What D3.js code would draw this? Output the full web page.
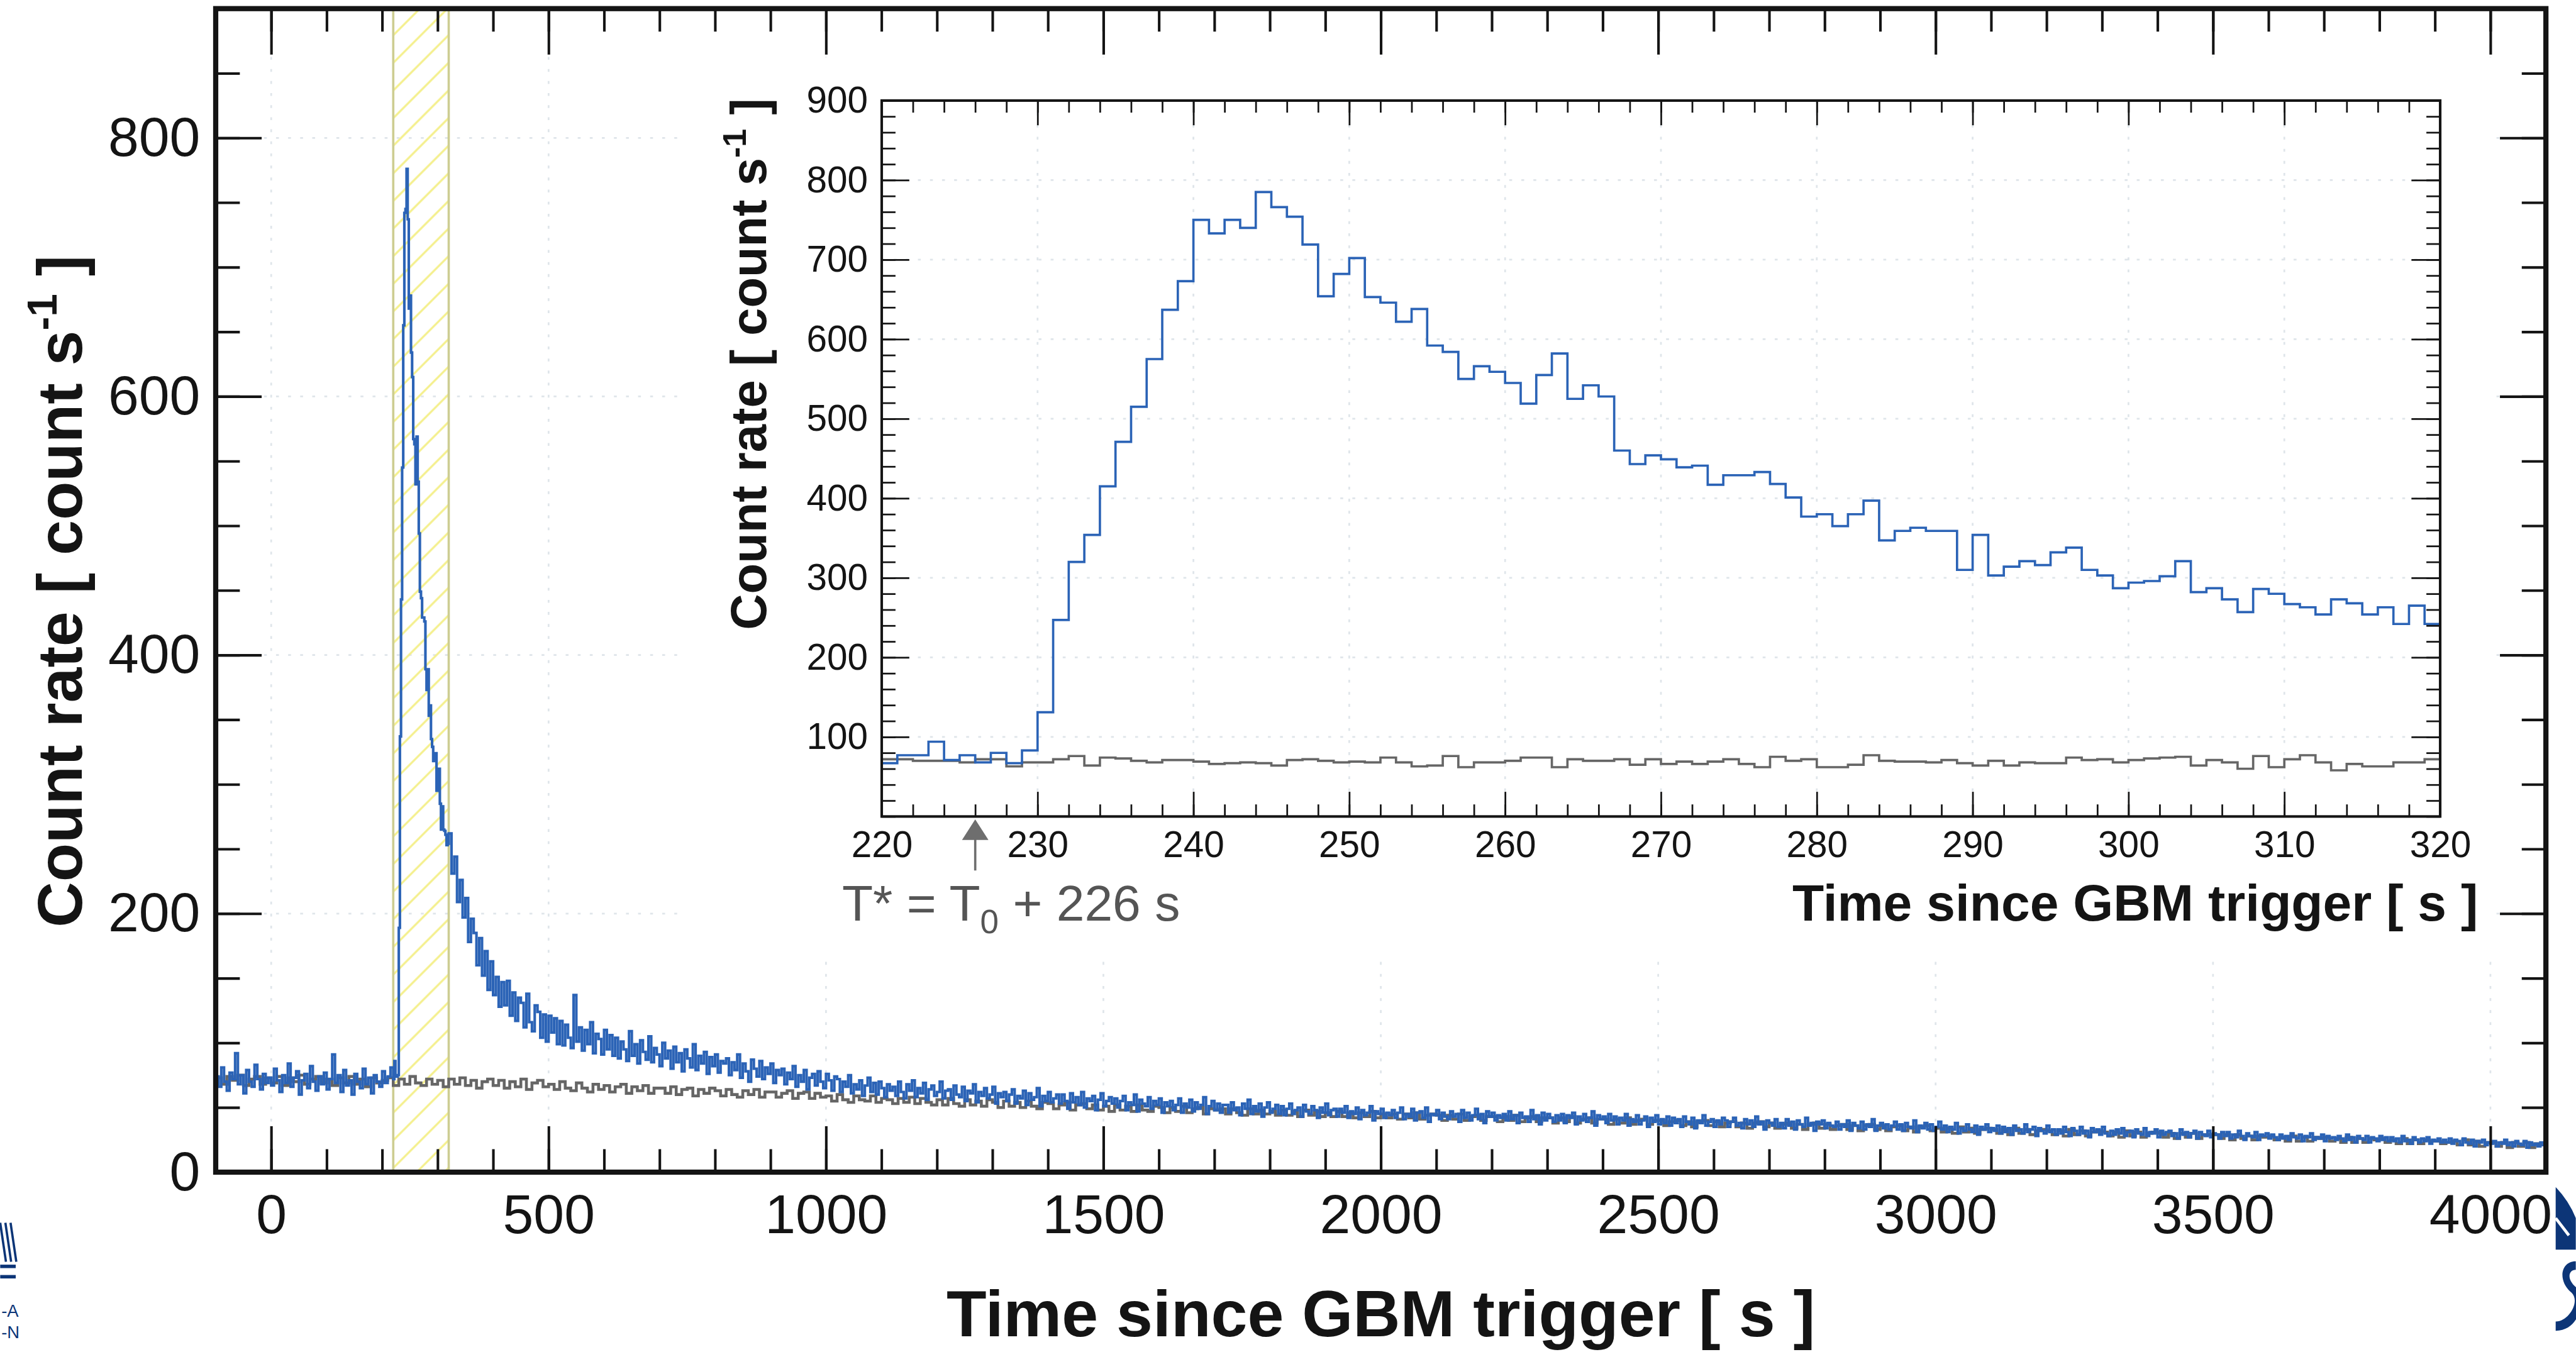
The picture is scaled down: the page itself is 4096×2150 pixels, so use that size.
<!DOCTYPE html>
<html>
<head>
<meta charset="utf-8">
<script src="https://cdn.jsdelivr.net/npm/d3@7"></script>
<style>
  html, body { margin: 0; padding: 0; background: #fff; }
  svg { display: block; }
</style>
</head>
<body>
<svg id="chart"></svg>
<script>
// Light curve data (count rate in count/s)

// Main panel binning
var preStart = -100;
var burstStart = 220;
var postStart = 320;
var mainEnd = 4100;
var blueBinWidth = 5;
var burstBinWidth = 2;
var grayBinWidth = 10;

// Blue: source region, before the burst window (5 s bins from -100 s)
var bluePre = [74, 66, 81, 70, 63, 77, 72, 92, 68, 75, 61, 79, 70, 66, 83, 72, 64, 76, 69, 73,
  67, 80, 71, 62, 75, 69, 84, 66, 73, 78, 60, 71, 76, 65, 82, 70, 63, 74, 68, 77,
  64, 72, 91, 69, 75, 62, 79, 67, 71, 60, 76, 70, 65, 80, 68, 73, 61, 75, 70, 66,
  78, 69, 74, 81];

// Blue: burst window 220-320 s (2 s bins)
var blueBurst = [72, 86, 74, 74, 75, 189, 337, 443, 545, 655,
  742, 745, 776, 737, 668, 678, 634, 615, 567, 563,
  532, 569, 534, 494, 449, 444, 429, 429, 426, 389,
  373, 389, 353, 361, 335, 329, 318, 324, 324, 295,
  295, 312, 285, 265, 283, 265, 264, 261, 253, 254];

// Blue: after the burst window (5 s bins from 320 s)
var bluePost = [262, 231, 244, 209, 226, 197, 212, 178, 196, 185, 160, 181, 152, 171, 141, 163, 137, 151, 128, 147,
  129, 148, 121, 139, 117, 135, 131, 112, 138, 116, 109, 129, 124, 104, 122, 101, 121, 108, 119, 99,
  117, 98, 114, 104, 96, 137, 101, 112, 94, 110, 99, 116, 92, 107, 103, 91, 110, 95, 106, 90,
  104, 88, 101, 95, 86, 109, 90, 99, 84, 102, 93, 87, 105, 85, 96, 91, 82, 100, 88, 94,
  80, 97, 85, 92, 78, 95, 88, 81, 99, 79, 90, 84, 93, 76, 89, 82, 91, 77, 86, 84,
  88, 75, 85, 79, 91, 73, 84, 78, 70, 87, 80, 74, 86, 72, 81, 76, 84, 69, 79, 75,
  80, 68, 77, 72, 82, 66, 75, 70, 79, 64, 73, 76, 67, 78, 70, 65, 76, 71, 63, 74,
  72, 62, 70, 66, 75, 61, 68, 64, 71, 59, 67, 73, 62, 69, 60, 70, 65, 58, 68, 63,
  66, 59, 70, 62, 57, 68, 63, 71, 58, 65, 61, 69, 56, 64, 67, 59, 62, 70, 57, 63,
  64, 56, 67, 60, 58, 66, 55, 63, 61, 68, 54, 62, 59, 65, 57, 60, 66, 53, 61, 58,
  62, 55, 60, 64, 53, 59, 57, 63, 52, 61, 56, 58, 65, 51, 59, 55, 62, 54, 57, 60,
  53, 60, 55, 49, 61, 54, 58, 52, 62, 50, 57, 55, 59, 48, 56, 61, 51, 55, 58, 53,
  57, 50, 55, 59, 48, 54, 52, 60, 47, 56, 53, 51, 58, 49, 55, 52, 57, 46, 54, 51,
  55, 48, 52, 57, 46, 53, 50, 56, 47, 54, 49, 52, 58, 45, 51, 55, 48, 53, 46, 52,
  52, 46, 54, 48, 50, 44, 53, 49, 56, 45, 51, 47, 53, 43, 50, 54, 46, 49, 52, 45,
  51, 44, 49, 53, 45, 48, 50, 43, 52, 47, 45, 51, 48, 42, 50, 46, 53, 44, 48, 49,
  43, 49, 46, 51, 42, 47, 45, 50, 41, 48, 44, 46, 51, 40, 47, 45, 49, 42, 46, 44,
  48, 42, 46, 50, 41, 45, 43, 49, 40, 46, 47, 42, 50, 39, 45, 44, 48, 41, 46, 43,
  41, 47, 43, 45, 39, 48, 42, 46, 40, 44, 49, 41, 45, 38, 47, 43, 46, 40, 44, 42,
  45, 40, 47, 41, 44, 38, 46, 42, 43, 39, 48, 41, 44, 37, 46, 40, 45, 42, 39, 44,
  40, 45, 38, 44, 42, 46, 37, 43, 40, 45, 39, 42, 47, 36, 44, 41, 43, 38, 45, 40,
  43, 37, 42, 40, 45, 36, 41, 39, 44, 37, 40, 43, 35, 42, 39, 44, 37, 41, 38, 43,
  36, 42, 38, 41, 35, 43, 39, 37, 42, 34, 40, 38, 44, 36, 39, 41, 35, 40, 37, 42,
  40, 35, 39, 42, 36, 38, 34, 41, 37, 40, 35, 43, 37, 39, 33, 40, 38, 36, 41, 35,
  38, 34, 41, 36, 39, 33, 40, 37, 35, 42, 36, 38, 32, 39, 37, 40, 34, 38, 36, 35,
  39, 33, 37, 35, 40, 32, 38, 36, 34, 39, 33, 37, 35, 41, 32, 36, 38, 34, 37, 33,
  36, 39, 33, 37, 32, 38, 35, 34, 40, 31, 36, 34, 38, 33, 37, 32, 35, 39, 33, 36,
  31, 35, 33, 38, 30, 34, 32, 37, 33, 31, 36, 29, 35, 33, 37, 31, 34, 32, 36, 30,
  35, 31, 34, 29, 36, 32, 33, 30, 37, 31, 33, 35, 28, 34, 32, 30, 36, 31, 33, 29,
  33, 30, 35, 31, 28, 34, 32, 29, 35, 30, 32, 27, 34, 31, 33, 29, 35, 30, 28, 32,
  29, 33, 30, 34, 28, 31, 32, 27, 33, 30, 29, 34, 28, 31, 30, 33, 27, 32, 29, 31,
  32, 28, 30, 26, 33, 29, 31, 27, 30, 32, 26, 31, 29, 28, 32, 27, 30, 29, 26, 31,
  28, 31, 26, 29, 27, 32, 28, 25, 30, 28, 27, 31, 25, 29, 28, 30, 26, 29, 27, 25,
  29, 26, 28, 25, 30, 27, 26, 29, 24, 28, 27, 30, 25, 27, 26, 29, 24, 28, 26, 27,
  25, 28, 26, 24, 29, 25, 27, 23, 28, 26, 25, 28, 23, 27, 26, 24, 28, 25, 27, 24,
  27, 24, 26, 23, 28, 24, 25, 22, 27, 25, 23, 26, 24, 27, 22, 25, 24, 26, 23, 25,
  23, 26, 22, 25, 24, 21, 26, 23, 22, 25, 20, 24, 23, 25, 21, 23, 22, 24, 20, 23,
  22, 25, 21, 23, 20, 24, 22, 21, 24, 19, 23, 21, 22, 20, 23, 21];

// Gray: background region (10 s bins from -100 s)
var grayMain = [73, 68, 74, 71, 75, 67, 72, 74, 68, 73,
  69, 74, 67, 73, 70, 75, 68, 72, 74, 69,
  72, 67, 73, 69, 74, 68, 72, 66, 73, 69,
  71, 73, 67, 72, 68, 74, 69, 67, 72, 68,
  71, 66, 72, 68, 73, 67, 71, 65, 70, 72,
  67, 71, 65, 70, 66, 72, 64, 69, 71, 66,
  68, 64, 70, 65, 63, 69, 65, 62, 68, 64,
  67, 62, 66, 68, 61, 66, 63, 67, 61, 65,
  65, 61, 66, 60, 64, 65, 59, 64, 61, 65,
  63, 59, 64, 60, 58, 63, 60, 64, 58, 62,
  62, 58, 61, 63, 57, 61, 62, 57, 61, 58,
  59, 55, 60, 56, 54, 59, 56, 55, 59, 54,
  57, 56, 53, 57, 54, 58, 53, 57, 54, 52,
  56, 52, 57, 53, 51, 56, 52, 55, 51, 56,
  54, 50, 55, 51, 54, 50, 55, 51, 49, 54,
  53, 49, 52, 54, 48, 52, 53, 49, 52, 48,
  51, 47, 52, 48, 51, 47, 52, 48, 47, 51,
  50, 46, 50, 47, 51, 46, 49, 50, 45, 49,
  48, 49, 45, 49, 46, 44, 49, 45, 48, 45,
  47, 44, 48, 44, 47, 43, 48, 44, 47, 43,
  46, 43, 47, 43, 46, 42, 46, 43, 47, 42,
  45, 42, 45, 41, 45, 42, 46, 41, 44, 45,
  44, 40, 44, 41, 45, 40, 43, 44, 40, 43,
  43, 39, 43, 40, 44, 39, 42, 43, 39, 42,
  42, 38, 42, 39, 43, 38, 41, 42, 38, 41,
  41, 37, 41, 38, 42, 37, 40, 41, 37, 40,
  40, 36, 39, 40, 36, 39, 35, 39, 40, 36,
  39, 35, 38, 39, 35, 38, 34, 38, 39, 35,
  38, 34, 37, 38, 34, 37, 33, 37, 38, 34,
  37, 33, 36, 37, 33, 36, 32, 36, 37, 33,
  36, 32, 35, 36, 32, 35, 31, 35, 36, 32,
  34, 31, 34, 30, 35, 31, 34, 30, 33, 34,
  33, 30, 33, 29, 34, 30, 33, 29, 32, 33,
  32, 29, 32, 28, 33, 29, 32, 28, 31, 32,
  31, 28, 31, 27, 32, 28, 31, 27, 30, 31,
  30, 27, 30, 26, 30, 27, 30, 26, 29, 29,
  29, 26, 29, 25, 29, 26, 28, 25, 28, 27,
  28, 25, 27, 24, 28, 24, 27, 24, 27, 26,
  27, 24, 26, 23, 27, 23, 26, 23, 26, 25,
  26, 23, 25, 22, 26, 22, 25, 22, 25, 24,
  24, 22, 23, 24, 21, 25, 21, 24, 20, 23,
  23, 20, 23, 19, 23, 20, 23, 19, 22, 21];

// Inset: 1 s bins from 220 s
var insetStart = 220;
var insetEnd = 320;
var insetBinWidth = 1;
var insetBlue = [67, 77, 77, 94, 71, 77, 68, 80, 67, 83,
  131, 247, 320, 354, 415, 471, 515, 575, 637, 673,
  750, 733, 750, 740, 785, 766, 754, 719, 654, 682,
  702, 653, 646, 622, 638, 592, 584, 550, 566, 559,
  545, 519, 555, 582, 525, 542, 528, 460, 443, 454,
  449, 439, 441, 417, 429, 429, 433, 418, 401, 377,
  380, 365, 380, 397, 347, 359, 363, 359, 359, 310,
  354, 303, 314, 321, 316, 332, 338, 310, 303, 287,
  294, 296, 302, 321, 282, 287, 273, 257, 286, 280,
  267, 263, 254, 273, 268, 254, 263, 242, 265, 242];
var insetGray = [72, 72, 70, 70, 70, 68, 72, 72, 63, 68,
  68, 72, 76, 64, 74, 73, 70, 68, 71, 71,
  69, 66, 67, 68, 67, 64, 71, 72, 70, 68,
  69, 68, 74, 68, 63, 64, 76, 62, 68, 68,
  70, 74, 74, 62, 72, 70, 70, 72, 65, 72,
  66, 69, 66, 69, 72, 66, 62, 75, 70, 72,
  62, 62, 65, 77, 70, 69, 69, 68, 71, 67,
  64, 70, 64, 68, 67, 67, 74, 71, 72, 68,
  71, 73, 74, 75, 64, 71, 68, 60, 76, 62,
  72, 77, 68, 58, 66, 63, 63, 68, 68, 72];

// Highlighted window and trigger offset
var windowRange = [220, 320];
var triggerOffset = 226;

// Tick labels
var mainXTicks = [0, 500, 1000, 1500, 2000, 2500, 3000, 3500, 4000];
var mainYTicks = [0, 200, 400, 600, 800];
var insetXTicks = [220, 230, 240, 250, 260, 270, 280, 290, 300, 310, 320];
var insetYTicks = [100, 200, 300, 400, 500, 600, 700, 800, 900];

// Style
var font = "'Liberation Sans', Arial, Helvetica, sans-serif";
var ink = "#141414";
var blue = "#2b63b6";
var gray = "#666666";
var gridColor = "#dfe5ea";
var fmt = d3.format("d");

// Layout (reference pixel space, scaled by the viewBox)
var W = 4482, H = 2353;
var m = { l: 375, r: 4430, t: 15, b: 2040 };
var ins = { l: 1534, r: 4246, t: 175, b: 1421 };

var svg = d3.select("#chart")
  .attr("width", 4096)
  .attr("height", 2150)
  .attr("viewBox", "0 0 " + W + " " + H)
  ;

svg.append("rect")
  .attr("width", W)
  .attr("height", H)
  .style("fill", "#fff")
  ;

var defs = svg.append("defs");

defs.append("clipPath").attr("id", "clip-main")
  .append("rect")
    .attr("x", m.l).attr("y", m.t)
    .attr("width", m.r - m.l).attr("height", m.b - m.t)
    ;

defs.append("clipPath").attr("id", "clip-inset")
  .append("rect")
    .attr("x", ins.l).attr("y", ins.t)
    .attr("width", ins.r - ins.l).attr("height", ins.b - ins.t)
    ;

// Hatch for the highlighted window
var hatch = defs.append("pattern")
  .attr("id", "hatch")
  .attr("patternUnits", "userSpaceOnUse")
  .attr("width", 34)
  .attr("height", 34)
  .attr("patternTransform", "rotate(45)")
  ;
hatch.append("line")
  .attr("x1", 17).attr("x2", 17)
  .attr("y1", 0).attr("y2", 34)
  .style("stroke", "#f4ef8a")
  .style("stroke-width", 3.5)
  ;

// Scales
var x = d3.scaleLinear().domain([preStart, mainEnd]).range([m.l, m.r]);
var y = d3.scaleLinear().domain([0, 900]).range([m.b, m.t]);
var xi = d3.scaleLinear().domain([insetStart, insetEnd]).range([ins.l, ins.r]);
var yi = d3.scaleLinear().domain([0, 900]).range([ins.b, ins.t]);

function translate(tx, ty) {
  return "translate(" + tx + " " + ty + ")";
}

// Left edges of bins as [t, value]
function binPoints(start, width, values) {
  return values.map(function(v, i) { return [start + i * width, v]; });
}

function stepLine(sx, sy) {
  return d3.line()
    .x(function(d) { return sx(d[0]); })
    .y(function(d) { return sy(d[1]); })
    .curve(d3.curveStepAfter);
}

// Ticks through d3 axes, drawn inward
function ticks(parent, axis, tx, ty, values, size, width) {
  var g = parent.append("g")
    .attr("transform", translate(tx, ty))
    .call(axis.tickValues(values).tickSize(size).tickSizeOuter(0).tickFormat(""))
    ;
  g.select(".domain").remove();
  g.selectAll(".tick line").style("stroke", ink).style("stroke-width", width);
  return g;
}

function labels(g, fontSize) {
  g.attr("font-family", font).attr("font-size", fontSize);
  g.selectAll(".tick text").style("fill", ink);
  return g;
}

// ---------- Main panel ----------

var main = svg.append("g").attr("class", "main");

// Grid
main.append("g").selectAll("line")
  .data(mainXTicks)
  .enter().append("line")
    .attr("x1", x).attr("x2", x)
    .attr("y1", m.t).attr("y2", m.b)
    .style("stroke", gridColor)
    .style("stroke-width", 3)
    .style("stroke-dasharray", "5 16")
    ;
main.append("g").selectAll("line")
  .data(mainYTicks.filter(function(d) { return d > 0; }))
  .enter().append("line")
    .attr("x1", m.l).attr("x2", m.r)
    .attr("y1", y).attr("y2", y)
    .style("stroke", gridColor)
    .style("stroke-width", 3)
    .style("stroke-dasharray", "5 16")
    ;

// Inset pad
main.append("rect")
  .attr("x", 1186).attr("y", 100)
  .attr("width", 4340 - 1186).attr("height", 1660 - 100)
  .style("fill", "#fff")
  ;

// Highlighted window
main.append("rect")
  .attr("x", x(windowRange[0]))
  .attr("y", m.t)
  .attr("width", x(windowRange[1]) - x(windowRange[0]))
  .attr("height", m.b - m.t)
  .style("fill", "url(#hatch)")
  .style("stroke", "none")
  ;
main.append("g").selectAll("line")
  .data(windowRange)
  .enter().append("line")
    .attr("x1", x).attr("x2", x)
    .attr("y1", m.t).attr("y2", m.b)
    .style("stroke", "#cdcd92")
    .style("stroke-width", 4)
    ;

// Curves
var mainGray = binPoints(preStart, grayBinWidth, grayMain);
mainGray.push([mainEnd, grayMain[grayMain.length - 1]]);

var mainBlue = [[preStart, 0]]
  .concat(binPoints(preStart, blueBinWidth, bluePre))
  .concat(binPoints(burstStart, burstBinWidth, blueBurst))
  .concat(binPoints(postStart, blueBinWidth, bluePost));
mainBlue.push([mainEnd, bluePost[bluePost.length - 1]]);

var curves = main.append("g").attr("clip-path", "url(#clip-main)");
curves.append("path")
  .attr("d", stepLine(x, y)(mainGray))
  .style("fill", "none")
  .style("stroke", gray)
  .style("stroke-width", 5)
  ;
curves.append("path")
  .attr("d", stepLine(x, y)(mainBlue))
  .style("fill", "none")
  .style("stroke", blue)
  .style("stroke-width", 4.5)
  ;

// Axes ticks
var xMinor = d3.range(-100, 4101, 100);
var yMinor = d3.range(0, 901, 50);

ticks(main, d3.axisBottom(x), 0, m.b, xMinor, -40, 4.5);
ticks(main, d3.axisTop(x), 0, m.t, xMinor, -40, 4.5);
ticks(main, d3.axisTop(x), 0, m.t, mainXTicks, -80, 4.5);
ticks(main, d3.axisLeft(y), m.l, 0, yMinor, -42, 4.5);
ticks(main, d3.axisRight(y), m.r, 0, yMinor, -42, 4.5);
ticks(main, d3.axisRight(y), m.r, 0, mainYTicks.concat([900]), -80, 4.5);

// Labelled axes
var xAxis = main.append("g")
  .attr("transform", translate(0, m.b))
  .call(d3.axisBottom(x).tickValues(mainXTicks).tickFormat(fmt).tickSize(-80).tickSizeOuter(0).tickPadding(38))
  ;
xAxis.select(".domain").remove();
xAxis.selectAll(".tick line").style("stroke", ink).style("stroke-width", 4.5);
labels(xAxis, 96);

var yAxis = main.append("g")
  .attr("transform", translate(m.l, 0))
  .call(d3.axisLeft(y).tickValues(mainYTicks).tickFormat(fmt).tickSize(-80).tickSizeOuter(0).tickPadding(27))
  ;
yAxis.select(".domain").remove();
yAxis.selectAll(".tick line").style("stroke", ink).style("stroke-width", 4.5);
labels(yAxis, 96);

// Frame
main.append("rect")
  .attr("x", m.l).attr("y", m.t)
  .attr("width", m.r - m.l).attr("height", m.b - m.t)
  .style("fill", "none")
  .style("stroke", ink)
  .style("stroke-width", 9)
  ;

// Titles
main.append("text")
  .attr("x", (m.l + m.r) / 2)
  .attr("y", 2326)
  .attr("font-family", font)
  .attr("font-size", 114)
  .attr("font-weight", "bold")
  .style("fill", ink)
  .style("text-anchor", "middle")
  .text("Time since GBM trigger [ s ]")
  ;

var yTitle = main.append("text")
  .attr("transform", translate(142, 1029) + " rotate(-90)")
  .attr("font-family", font)
  .attr("font-size", 110)
  .attr("font-weight", "bold")
  .style("fill", ink)
  .style("text-anchor", "middle")
  ;
yTitle.append("tspan").text("Count rate [ count s");
yTitle.append("tspan").attr("dy", -44).attr("font-size", 72).text("-1");
yTitle.append("tspan").attr("dy", 44).text(" ]");

// ---------- Inset ----------

var inset = svg.append("g").attr("class", "inset");

inset.append("g").selectAll("line")
  .data(insetXTicks.slice(1, -1))
  .enter().append("line")
    .attr("x1", xi).attr("x2", xi)
    .attr("y1", ins.t).attr("y2", ins.b)
    .style("stroke", gridColor)
    .style("stroke-width", 3)
    .style("stroke-dasharray", "5 16")
    ;
inset.append("g").selectAll("line")
  .data(insetYTicks.slice(0, -1))
  .enter().append("line")
    .attr("x1", ins.l).attr("x2", ins.r)
    .attr("y1", yi).attr("y2", yi)
    .style("stroke", gridColor)
    .style("stroke-width", 3)
    .style("stroke-dasharray", "5 16")
    ;

var insGrayPts = binPoints(insetStart, insetBinWidth, insetGray);
insGrayPts.push([insetEnd, insetGray[insetGray.length - 1]]);
var insBluePts = binPoints(insetStart, insetBinWidth, insetBlue);
insBluePts.push([insetEnd, insetBlue[insetBlue.length - 1]]);

var insCurves = inset.append("g").attr("clip-path", "url(#clip-inset)");
insCurves.append("path")
  .attr("d", stepLine(xi, yi)(insGrayPts))
  .style("fill", "none")
  .style("stroke", gray)
  .style("stroke-width", 4)
  ;
insCurves.append("path")
  .attr("d", stepLine(xi, yi)(insBluePts))
  .style("fill", "none")
  .style("stroke", blue)
  .style("stroke-width", 4)
  ;

var xiMinor = d3.range(220, 321, 2);
var yiMinor = d3.range(0, 901, 20);

ticks(inset, d3.axisBottom(xi), 0, ins.b, xiMinor, -21, 3);
ticks(inset, d3.axisTop(xi), 0, ins.t, xiMinor, -21, 3);
ticks(inset, d3.axisTop(xi), 0, ins.t, insetXTicks, -43, 3);
ticks(inset, d3.axisLeft(yi), ins.l, 0, yiMinor, -24, 3);
ticks(inset, d3.axisRight(yi), ins.r, 0, yiMinor, -24, 3);
ticks(inset, d3.axisRight(yi), ins.r, 0, insetYTicks, -50, 3);

var xiAxis = inset.append("g")
  .attr("transform", translate(0, ins.b))
  .call(d3.axisBottom(xi).tickValues(insetXTicks).tickFormat(fmt).tickSize(-43).tickSizeOuter(0).tickPadding(25))
  ;
xiAxis.select(".domain").remove();
xiAxis.selectAll(".tick line").style("stroke", ink).style("stroke-width", 3);
labels(xiAxis, 64);

var yiAxis = inset.append("g")
  .attr("transform", translate(ins.l, 0))
  .call(d3.axisLeft(yi).tickValues(insetYTicks).tickFormat(fmt).tickSize(-48).tickSizeOuter(0).tickPadding(24))
  ;
yiAxis.select(".domain").remove();
yiAxis.selectAll(".tick line").style("stroke", ink).style("stroke-width", 3);
labels(yiAxis, 64);

inset.append("rect")
  .attr("x", ins.l).attr("y", ins.t)
  .attr("width", ins.r - ins.l).attr("height", ins.b - ins.t)
  .style("fill", "none")
  .style("stroke", ink)
  .style("stroke-width", 4.5)
  ;

// Inset titles, aligned to the axis ends
inset.append("text")
  .attr("x", 4312)
  .attr("y", 1602)
  .attr("font-family", font)
  .attr("font-size", 90)
  .attr("font-weight", "bold")
  .style("fill", ink)
  .style("text-anchor", "end")
  .text("Time since GBM trigger [ s ]")
  ;

var yiTitle = inset.append("text")
  .attr("transform", translate(1333, 171) + " rotate(-90)")
  .attr("font-family", font)
  .attr("font-size", 87)
  .attr("font-weight", "bold")
  .style("fill", ink)
  .style("text-anchor", "end")
  ;
yiTitle.append("tspan").text("Count rate [ count s");
yiTitle.append("tspan").attr("dy", -35).attr("font-size", 57).text("-1");
yiTitle.append("tspan").attr("dy", 35).text(" ]");

// Trigger offset marker
var tx0 = xi(triggerOffset);
inset.append("line")
  .attr("x1", tx0).attr("x2", tx0)
  .attr("y1", 1515).attr("y2", 1458)
  .style("stroke", "#6e6e6e")
  .style("stroke-width", 4)
  ;
inset.append("polygon")
  .attr("points", [[tx0, ins.b + 5], [tx0 - 23, 1462], [tx0 + 23, 1462]].join(" "))
  .style("fill", "#6e6e6e")
  ;

var note = inset.append("text")
  .attr("x", 1465)
  .attr("y", 1602)
  .attr("font-family", font)
  .attr("font-size", 88)
  .style("fill", "#555")
  ;
note.append("tspan").text("T* = T");
note.append("tspan").attr("dy", 22).attr("font-size", 58).text("0");
note.append("tspan").attr("dy", -22).text(" + " + triggerOffset + " s");

// ---------- Edge logos (cropped in the source) ----------

var navy = "#0c3577";
var logoL = svg.append("g").style("stroke", navy).style("fill", "none").style("stroke-width", 4);
[0, 9, 18].forEach(function(o) {
  logoL.append("line")
    .attr("x1", o).attr("y1", 2128)
    .attr("x2", o + 10).attr("y2", 2196)
    ;
});
logoL.append("line").attr("x1", 0).attr("x2", 27).attr("y1", 2204).attr("y2", 2204).style("stroke-width", 6);
logoL.append("line").attr("x1", 0).attr("x2", 27).attr("y1", 2222).attr("y2", 2222).style("stroke-width", 6);
svg.append("text")
  .attr("x", 2).attr("y", 2292)
  .attr("font-family", font).attr("font-size", 30)
  .style("fill", navy)
  .text("-A")
  ;
svg.append("text")
  .attr("x", 2).attr("y", 2329)
  .attr("font-family", font).attr("font-size", 30)
  .style("fill", navy)
  .text("-N")
  ;

var logoR = svg.append("g").style("fill", navy);
logoR.append("path")
  .attr("d", "M4447,2066 Q4470,2090 4482,2120 L4482,2175 L4447,2175 Z")
  ;
logoR.append("path")
  .attr("d", "M4447,2120 L4470,2150")
  .style("stroke", "#fff").style("stroke-width", 5)
  ;
logoR.append("path")
  .attr("d", "M4482,2195 C4455,2195 4450,2230 4475,2250 C4490,2265 4470,2300 4447,2300 L4447,2316 C4490,2316 4500,2260 4482,2240 C4465,2225 4470,2210 4482,2210 Z")
  ;
</script>
</body>
</html>
